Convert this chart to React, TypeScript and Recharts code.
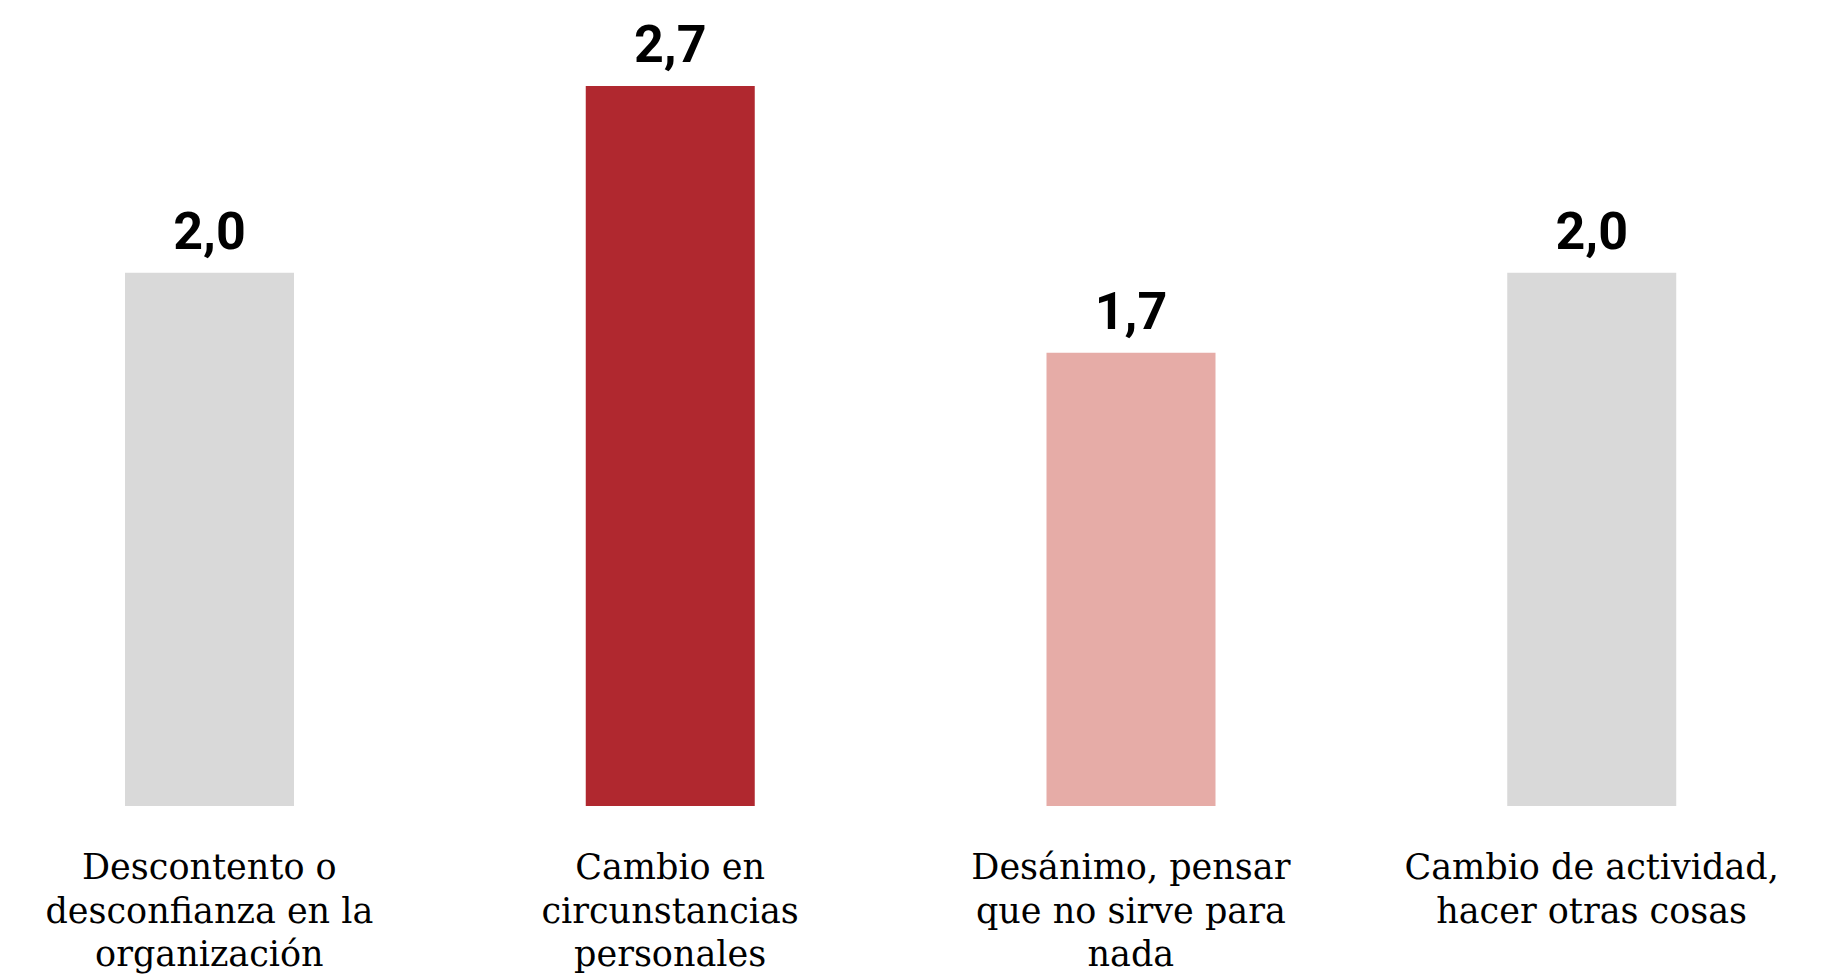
import { BarChart, Bar, XAxis, YAxis, Cell, LabelList } from 'recharts';

// categories (each one split into the lines shown under the bar)
const categories = [
  ['Descontento o', 'desconfianza en la', 'organización'],
  ['Cambio en', 'circunstancias', 'personales'],
  ['Desánimo, pensar', 'que no sirve para', 'nada'],
  ['Cambio de actividad,', 'hacer otras cosas'],
];
const values = [2.0, 2.7, 1.7, 2.0];
const colors = ['#d9d9d9', '#b0282f', '#e6aca7', '#d9d9d9'];

const data = categories.map((lines, i) => ({
  name: lines.join(' '),
  lines,
  value: values[i],
}));

function CategoryTick(props: any) {
  const { x, y, index } = props;
  const lines = categories[index] || [];
  return (
    <text
      x={x}
      y={y}
      textAnchor="middle"
      fill="#000"
      fontFamily="'Roboto Slab', 'DejaVu Serif', serif"
      fontSize={35}
    >
      {lines.map((line, i) => (
        <tspan key={i} x={x} dy={i === 0 ? 73 : 43.5}>
          {line}
        </tspan>
      ))}
    </text>
  );
}

export default function App() {
  return (
    <div style={{ position: 'absolute', left: -21, top: 0, width: 1843, height: 974, background: '#fff' }}>
      <BarChart width={1843} height={974} data={data} margin={{ top: 6, right: 0, left: 0, bottom: 0 }}>
        <XAxis
          dataKey="name"
          axisLine={false}
          tickLine={false}
          tickSize={0}
          tickMargin={0}
          height={168}
          interval={0}
          tick={<CategoryTick />}
        />
        <YAxis hide domain={[0, 3]} />
        <Bar dataKey="value" barSize={169} isAnimationActive={false}>
          {data.map((_, i) => (
            <Cell key={i} fill={colors[i]} />
          ))}
          <LabelList
            dataKey="value"
            position="top"
            offset={24}
            formatter={(v: any) => Number(v).toFixed(1).replace('.', ',')}
            style={{ fontFamily: 'Roboto, sans-serif', fontWeight: 700, fontSize: 52, fill: '#000' }}
          />
        </Bar>
      </BarChart>
    </div>
  );
}
